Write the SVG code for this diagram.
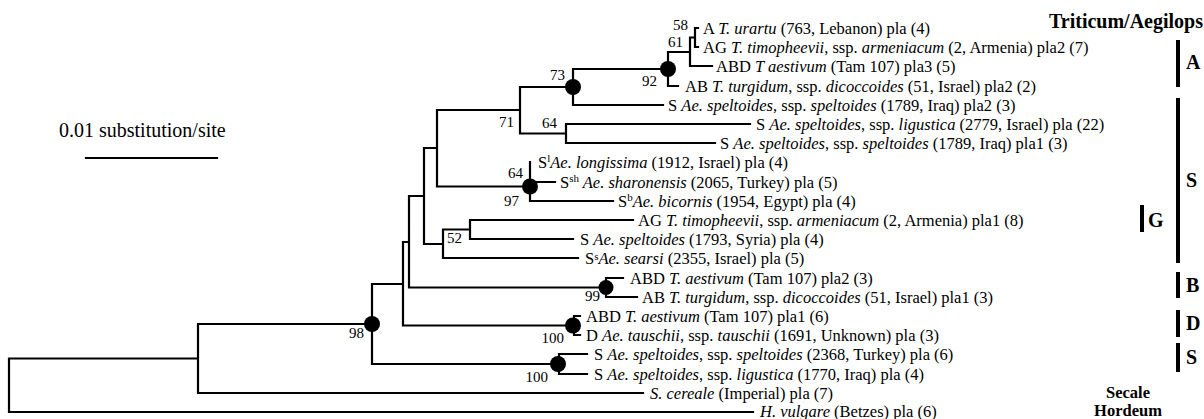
<svg xmlns="http://www.w3.org/2000/svg" width="1204" height="419" viewBox="0 0 1204 419">
<style>
.br{fill:none;stroke:#000;stroke-width:2.2;stroke-linecap:square}
.nd{fill:#000}
text{font-family:"Liberation Serif","Times New Roman","DejaVu Serif",serif;fill:#000}
.lf{font-size:16.5px}
.bs{font-size:15px}
.i{font-style:italic}
.bl{font-size:20px;font-weight:bold}
.bl2{font-size:16.5px;font-weight:bold}
.bar{stroke:#000;stroke-width:4}
.sup{font-size:11px}
</style>
<rect width="1204" height="419" fill="#fff"/>
<g id="connectors">
<path class="br" d="M9,358.5V412M9,358.5H198M9,412H753M198,324V393M198,393H643M198,324H372M372,284V364M372,284H403M372,364H559M559,354V374M559,354H587M559,374H587M403,242V325.5M403,325.5H574M574,316V335M574,316H580M574,335H580M403,242H409M409,196V287.5M409,287.5H606M606,278V297M606,278H623M606,297H637M409,196H424M424,148V244M424,244H443M443,229.5V258M443,258H578M443,229.5H470M470,220V239M470,220H633M470,239H573M424,148H437M437,110V186.5M437,186.5H530M530,162V201M530,182H555M530,201H613M437,110H520M520,87V133.5M520,133.5H566M566,124V143M566,124H750M566,143H715M520,87H573M573,69V105M573,105H663M573,69H668M668,52V86M668,86H678M668,52H690M690,37.5V66M690,66H712M690,37.5H695M695,28V47M695,28H698M695,47H698"/>
<path class="br" d="M86,158H217"/>
</g>
<g id="nodes">
<circle class="nd" cx="372" cy="324" r="8"/>
<circle class="nd" cx="573" cy="87" r="8"/>
<circle class="nd" cx="668" cy="69" r="8"/>
<circle class="nd" cx="530" cy="186.5" r="8"/>
<circle class="nd" cx="606" cy="287.5" r="7.5"/>
<circle class="nd" cx="573" cy="325.5" r="8"/>
<circle class="nd" cx="558" cy="364" r="8"/>
</g>
<g id="support">
<text class="bs" x="688" y="30" text-anchor="end">58</text>
<text class="bs" x="683" y="47" text-anchor="end">61</text>
<text class="bs" x="657" y="86" text-anchor="end">92</text>
<text class="bs" x="565" y="80" text-anchor="end">73</text>
<text class="bs" x="514" y="127" text-anchor="end">71</text>
<text class="bs" x="557" y="128" text-anchor="end">64</text>
<text class="bs" x="523" y="178" text-anchor="end">64</text>
<text class="bs" x="519" y="206" text-anchor="end">97</text>
<text class="bs" x="447" y="243">52</text>
<text class="bs" x="600" y="301" text-anchor="end">99</text>
<text class="bs" x="564" y="343" text-anchor="end">100</text>
<text class="bs" x="548" y="382" text-anchor="end">100</text>
<text class="bs" x="364" y="338" text-anchor="end">98</text>
</g>
<g id="leaves" class="lf">
<text x="703" y="33.5">A <tspan class="i">T. urartu</tspan> (763, Lebanon) pla (4)</text>
<text x="703" y="52.5">AG <tspan class="i">T. timopheevii</tspan>, ssp. <tspan class="i">armeniacum</tspan> (2, Armenia) pla2 (7)</text>
<text x="716" y="71.5">ABD <tspan class="i">T aestivum</tspan> (Tam 107) pla3 (5)</text>
<text x="685" y="91.5">AB <tspan class="i">T. turgidum</tspan>, ssp. <tspan class="i">dicoccoides</tspan> (51, Israel) pla2 (2)</text>
<text x="668" y="110.5">S <tspan class="i">Ae. speltoides</tspan>, ssp. <tspan class="i">speltoides</tspan> (1789, Iraq) pla2 (3)</text>
<text x="756" y="129.5">S <tspan class="i">Ae. speltoides</tspan>, ssp. <tspan class="i">ligustica</tspan> (2779, Israel) pla (22)</text>
<text x="720" y="148.5">S <tspan class="i">Ae. speltoides</tspan>, ssp. <tspan class="i">speltoides</tspan> (1789, Iraq) pla1 (3)</text>
<text x="538" y="167.5">S<tspan class="sup" dy="-6">l</tspan><tspan class="i" dy="6">Ae. longissima</tspan> (1912, Israel) pla (4)</text>
<text x="560" y="187.5">S<tspan class="sup" dy="-6">sh</tspan><tspan class="i" dy="6"> Ae. sharonensis</tspan>  (2065, Turkey) pla (5)</text>
<text x="618" y="206.5">S<tspan class="sup" dy="-6">b</tspan><tspan class="i" dy="6">Ae. bicornis</tspan>  (1954, Egypt) pla (4)</text>
<text x="638" y="225.5">AG <tspan class="i">T. timopheevii</tspan>, ssp. <tspan class="i">armeniacum</tspan> (2, Armenia) pla1 (8)</text>
<text x="580" y="244.5">S <tspan class="i">Ae. speltoides</tspan>  (1793, Syria) pla (4)</text>
<text x="585" y="263.5">S<tspan class="sup" dy="-4">s</tspan><tspan class="i" dy="4">Ae. searsi</tspan> (2355, Israel) pla (5)</text>
<text x="630" y="283.5">ABD <tspan class="i">T. aestivum</tspan> (Tam 107) pla2 (3)</text>
<text x="642" y="302.5">AB <tspan class="i">T. turgidum</tspan>, ssp. <tspan class="i">dicoccoides</tspan> (51, Israel) pla1 (3)</text>
<text x="586" y="321.5">ABD <tspan class="i">T. aestivum</tspan> (Tam 107) pla1 (6)</text>
<text x="586" y="340.5">D <tspan class="i">Ae. tauschii</tspan>, ssp. <tspan class="i">tauschii</tspan> (1691, Unknown)  pla (3)</text>
<text x="594" y="359.5">S <tspan class="i">Ae. speltoides</tspan>, ssp. <tspan class="i">speltoides</tspan> (2368, Turkey) pla (6)</text>
<text x="594" y="379.5">S <tspan class="i">Ae. speltoides</tspan>, ssp. <tspan class="i">ligustica</tspan> (1770, Iraq) pla (4)</text>
<text x="650" y="398.5"><tspan class="i">S. cereale</tspan> (Imperial) pla (7)</text>
<text x="760" y="416.5"><tspan class="i">H. vulgare</tspan> (Betzes) pla (6)</text>
</g>
<g id="scale">
<text x="59" y="137" style="font-size:20px">0.01 substitution/site</text>
</g>
<g id="groups">
<text class="bl" x="1203" y="28" text-anchor="end">Triticum/Aegilops</text>
<line class="bar" x1="1178" y1="40" x2="1178" y2="87"/>
<text class="bl" x="1186" y="69">A</text>
<line class="bar" x1="1178" y1="98" x2="1178" y2="263"/>
<text class="bl" x="1186" y="187">S</text>
<line class="bar" x1="1142" y1="205" x2="1142" y2="232"/>
<text class="bl" x="1148" y="227">G</text>
<line class="bar" x1="1178" y1="272" x2="1178" y2="298"/>
<text class="bl" x="1186" y="292">B</text>
<line class="bar" x1="1178" y1="310" x2="1178" y2="337"/>
<text class="bl" x="1186" y="330">D</text>
<line class="bar" x1="1178" y1="343" x2="1178" y2="372"/>
<text class="bl" x="1186" y="364">S</text>
<text class="bl2" x="1128" y="397.5" text-anchor="middle">Secale</text>
<text class="bl2" x="1128" y="415.5" text-anchor="middle">Hordeum</text>
</g>
</svg>
